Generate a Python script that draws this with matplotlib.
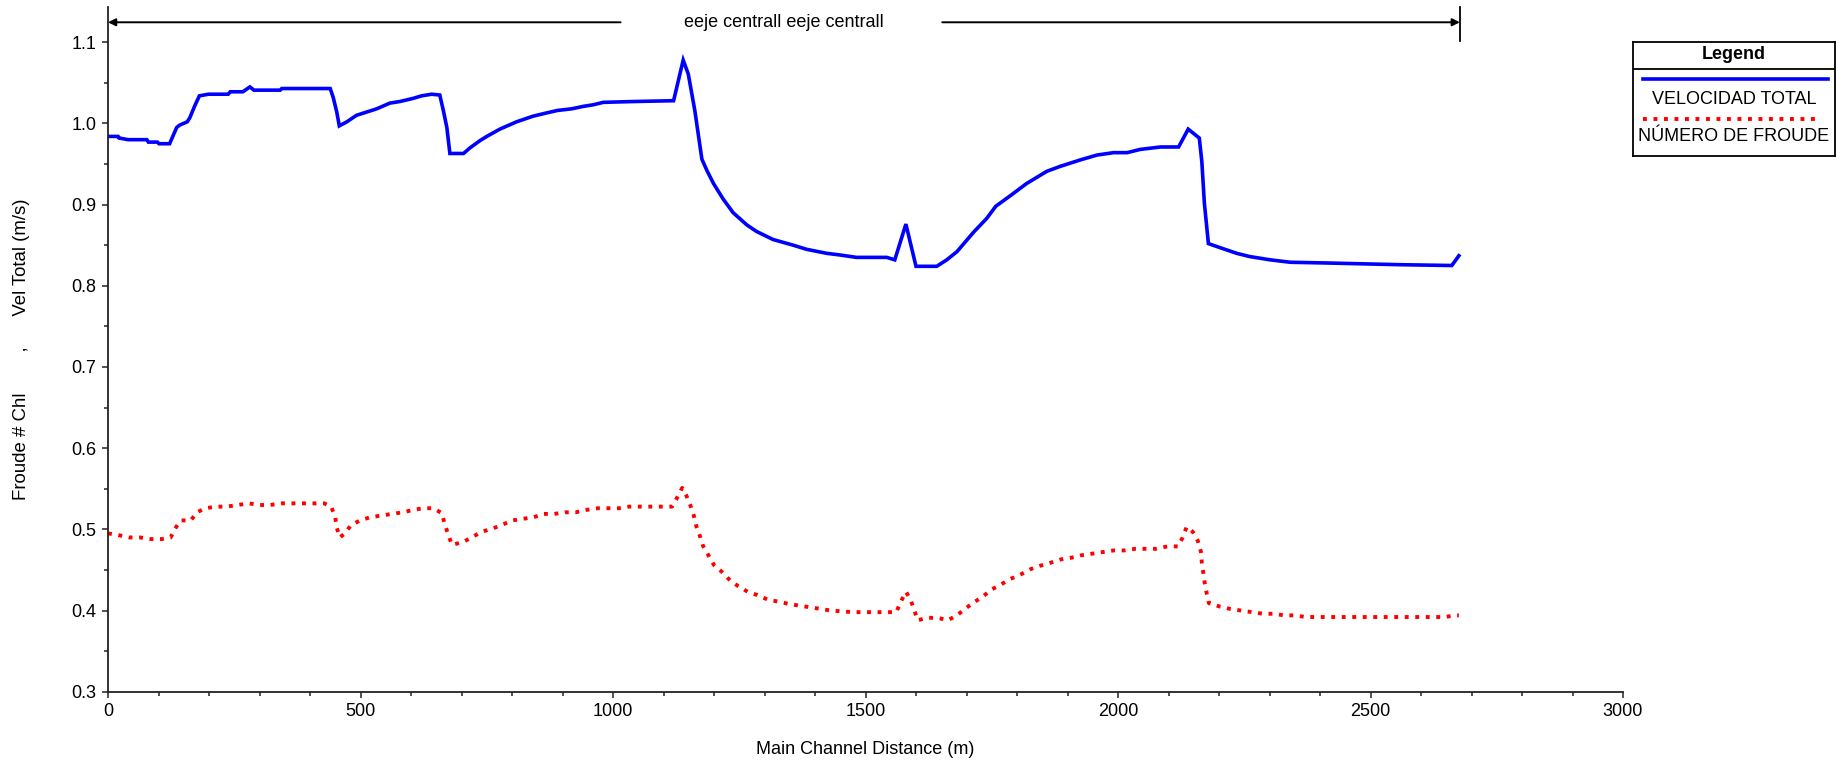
import matplotlib
matplotlib.use("Agg")
import matplotlib.pyplot as plt
from matplotlib.ticker import MultipleLocator, FormatStrFormatter

plt.rcParams['font.family'] = ['Liberation Sans', 'DejaVu Sans']

# distancia en el canal principal (m) y velocidad total (m/s)
dist_vel = [0, 20, 22, 40, 77, 80, 98, 101, 122, 136, 142, 157, 162, 172, 181, 199,
            238, 242, 267, 281, 289, 341, 344, 440, 446, 453, 458, 473, 492, 512,
            532, 558, 578, 605, 621, 641, 657, 664, 671, 677, 704, 717, 737, 750,
            776, 809, 842, 869, 890, 918, 941, 961, 981, 1041, 1120, 1139, 1149,
            1162, 1176, 1186, 1199, 1218, 1238, 1265, 1284, 1317, 1357, 1383, 1423,
            1449, 1482, 1542, 1558, 1580, 1600, 1641, 1661, 1681, 1714, 1740, 1758,
            1789, 1819, 1859, 1885, 1925, 1958, 1991, 2018, 2044, 2084, 2120, 2139,
            2161, 2166, 2171, 2179, 2202, 2235, 2261, 2301, 2341, 2420, 2558, 2661,
            2675]
vel_total = [0.984, 0.984, 0.982, 0.980, 0.980, 0.977, 0.977, 0.975, 0.975, 0.995,
             0.998, 1.002, 1.007, 1.022, 1.034, 1.036, 1.036, 1.039, 1.039, 1.045,
             1.041, 1.041, 1.043, 1.043, 1.032, 1.014, 0.997, 1.002, 1.010, 1.014,
             1.018, 1.025, 1.027, 1.031, 1.034, 1.036, 1.035, 1.016, 0.995, 0.963,
             0.963, 0.970, 0.979, 0.984, 0.993, 1.002, 1.009, 1.013, 1.016, 1.018,
             1.021, 1.023, 1.026, 1.027, 1.028, 1.078, 1.061, 1.016, 0.956, 0.942,
             0.926, 0.907, 0.890, 0.875, 0.867, 0.857, 0.850, 0.845, 0.840, 0.838,
             0.835, 0.835, 0.832, 0.876, 0.824, 0.824, 0.832, 0.842, 0.866, 0.883,
             0.898, 0.912, 0.926, 0.941, 0.947, 0.955, 0.961, 0.964, 0.964, 0.968,
             0.971, 0.971, 0.993, 0.982, 0.953, 0.902, 0.852, 0.847, 0.840, 0.836,
             0.832, 0.829, 0.828, 0.826, 0.825, 0.837]

# distancia (m) y numero de Froude
dist_fr = [0, 20, 42, 63, 85, 106, 124, 133, 144, 164, 176, 193, 214, 235, 257, 279,
           300, 321, 343, 364, 386, 407, 428, 442, 450, 453, 459, 469, 481, 499,
           520, 541, 562, 584, 605, 624, 644, 661, 667, 674, 681, 702, 720, 740,
           762, 782, 801, 822, 843, 863, 884, 905, 926, 948, 970, 991, 1012, 1032,
           1053, 1076, 1096, 1117, 1127, 1137, 1145, 1153, 1160, 1165, 1172, 1178,
           1190, 1200, 1215, 1232, 1248, 1267, 1286, 1308, 1328, 1349, 1369, 1390,
           1411, 1431, 1453, 1475, 1496, 1518, 1539, 1561, 1570, 1580, 1588, 1596,
           1603, 1623, 1643, 1663, 1681, 1699, 1717, 1732, 1750, 1768, 1787, 1806,
           1827, 1845, 1867, 1887, 1907, 1927, 1949, 1970, 1991, 2012, 2034, 2055,
           2075, 2098, 2119, 2128, 2136, 2148, 2158, 2164, 2166, 2169, 2172, 2176,
           2180, 2201, 2222, 2244, 2265, 2287, 2308, 2329, 2350, 2372, 2393, 2647,
           2667, 2675]
froude = [0.495, 0.493, 0.490, 0.490, 0.488, 0.488, 0.490, 0.501, 0.511, 0.511,
          0.521, 0.526, 0.528, 0.528, 0.530, 0.532, 0.530, 0.530, 0.532, 0.532,
          0.532, 0.532, 0.532, 0.528, 0.515, 0.502, 0.490, 0.495, 0.505, 0.511,
          0.515, 0.517, 0.519, 0.521, 0.524, 0.526, 0.526, 0.520, 0.506, 0.493,
          0.481, 0.484, 0.490, 0.497, 0.501, 0.506, 0.511, 0.513, 0.515, 0.519,
          0.519, 0.521, 0.521, 0.524, 0.526, 0.526, 0.526, 0.528, 0.528, 0.528,
          0.528, 0.528, 0.539, 0.551, 0.542, 0.530, 0.517, 0.504, 0.492, 0.480,
          0.467, 0.456, 0.448, 0.437, 0.430, 0.423, 0.419, 0.413, 0.411, 0.408,
          0.406, 0.404, 0.402, 0.400, 0.399, 0.398, 0.398, 0.398, 0.398, 0.398,
          0.411, 0.423, 0.415, 0.402, 0.388, 0.391, 0.391, 0.388, 0.394, 0.403,
          0.411, 0.417, 0.426, 0.432, 0.439, 0.444, 0.451, 0.455, 0.459, 0.463,
          0.465, 0.468, 0.470, 0.472, 0.474, 0.474, 0.476, 0.476, 0.476, 0.479,
          0.479, 0.490, 0.503, 0.497, 0.486, 0.473, 0.459, 0.446, 0.433, 0.420,
          0.409, 0.405, 0.402, 0.400, 0.398, 0.396, 0.396, 0.394, 0.394, 0.392,
          0.392, 0.392, 0.394, 0.394]

series_names = ['VELOCIDAD TOTAL', 'NÚMERO DE FROUDE']
reach_name = 'eeje centrall eeje centrall'
reach_start, reach_end = 0, 2677
xticks = [0, 500, 1000, 1500, 2000, 2500, 3000]

W, H = 1836, 765
fig = plt.figure(figsize=(W / 100, H / 100), dpi=100)
ax = fig.add_axes([108 / W, 1 - 691.7 / H, 1515 / W, 685 / H])

dots = (0, (1, 1.7))
ax.plot(dist_vel, vel_total, color='#0000ff', lw=2.6, solid_joinstyle='miter')
ax.plot(dist_fr, froude, color='#ff0000', lw=2.8, linestyle=dots)

ax.set_xlim(0, 3000)
ax.set_ylim(0.3, 1.1438)
ax.set_xticks(xticks)
ax.xaxis.set_minor_locator(MultipleLocator(100))
ax.yaxis.set_major_locator(MultipleLocator(0.1))
ax.yaxis.set_minor_locator(MultipleLocator(0.05))
ax.yaxis.set_major_formatter(FormatStrFormatter('%.1f'))
ax.tick_params(which='major', direction='out', length=4.5, width=1.1,
               labelsize=13, color='#222222')
ax.tick_params(which='minor', direction='out', length=3, width=1.1, color='#222222')
ax.tick_params(axis='x', pad=3.5)
ax.tick_params(axis='y', pad=4)
for s in ['top', 'right']:
    ax.spines[s].set_visible(False)
for s in ['left', 'bottom']:
    ax.spines[s].set_linewidth(1.3)
    ax.spines[s].set_color('#222222')

ax.set_xlabel('Main Channel Distance (m)', fontsize=13, va='center')
ax.xaxis.set_label_coords(0.5, -0.0851)
ax.set_ylabel('Froude # Chl        ,      Vel Total (m/s)', fontsize=13.4, va='center')
ax.yaxis.set_label_coords(-0.0574, 0.5)

# flecha del tramo
y_arrow = 1.1246
ax.annotate('', xy=(reach_start, y_arrow), xytext=(1015, y_arrow),
            arrowprops=dict(arrowstyle='-|>', color='black', lw=1.4,
                            shrinkA=0, shrinkB=0, mutation_scale=11),
            annotation_clip=False)
ax.annotate('', xy=(reach_end, y_arrow), xytext=(1652, y_arrow),
            arrowprops=dict(arrowstyle='-|>', color='black', lw=1.4,
                            shrinkA=0, shrinkB=0, mutation_scale=11),
            annotation_clip=False)
ax.plot([reach_end, reach_end], [1.102, 1.1438], color='black', lw=1.3, clip_on=False)
ax.text((reach_start + reach_end) / 2, y_arrow, reach_name, fontsize=13,
        ha='center', va='center')

# leyenda
lg = fig.add_axes([1633 / W, 1 - 155.7 / H, 202 / W, 114 / H])
lg.set_xlim(0, 202)
lg.set_ylim(114, 0)
lg.set_xticks([])
lg.set_yticks([])
for s in lg.spines.values():
    s.set_linewidth(1.3)
lg.axhline(27.6, color='black', lw=1.3)
lg.text(101, 13, 'Legend', fontsize=13, fontweight='bold', ha='center', va='center')
lg.plot([10, 195], [37.3, 37.3], color='#0000ff', lw=2.6)
lg.text(101, 57.5, series_names[0], fontsize=13, ha='center', va='center')
lg.plot([10, 188], [77.3, 77.3], color='#ff0000', lw=2.8, linestyle=dots)
lg.text(101, 95, series_names[1], fontsize=13, ha='center', va='center')

fig.savefig('out.png', dpi=100)
